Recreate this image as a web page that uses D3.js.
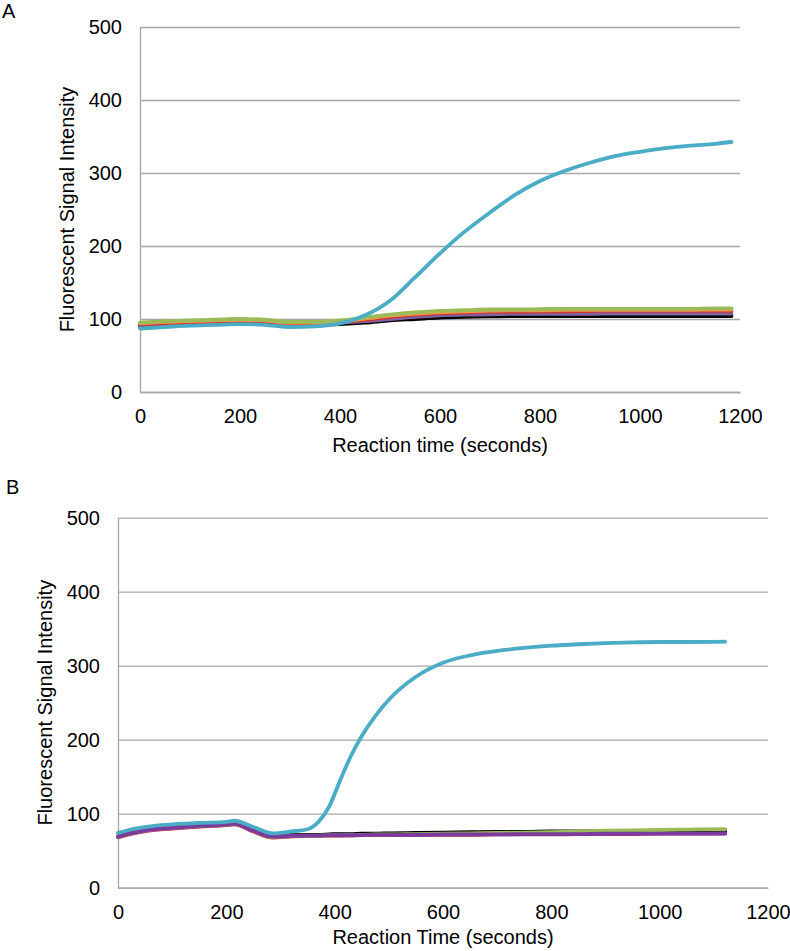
<!DOCTYPE html>
<html>
<head>
<meta charset="utf-8">
<script src="https://cdn.jsdelivr.net/npm/d3@7/dist/d3.min.js"></script>
<style>
body { margin: 0; background: #fff; }
text { font-family: "Liberation Sans", Arial, sans-serif; fill: #000; }
</style>
</head>
<body>
<div id="chart"></div>
<script>
// panel A data (seconds, signal)
const timesA = [0, 50, 100, 150, 200, 250, 300, 350, 400, 450, 500, 550, 600, 650, 700, 750, 800, 850, 900, 950, 1000, 1050, 1100, 1150, 1183];
const blackA  = [91, 92, 93, 93.5, 94, 93.5, 92, 92, 93, 95, 98, 100, 102, 103, 103.5, 104, 104, 104, 104, 104, 104, 104, 104, 104, 104];
const purpleA = [92, 93, 94, 95, 95.5, 95, 93, 93, 95, 97, 100, 103, 105, 106, 106.5, 107, 107, 107, 107, 107.5, 107.5, 107.5, 107.5, 107.5, 107.5];
const redA    = [93, 94, 95, 96, 97, 96, 94, 94, 96, 99, 103, 106, 108, 109, 110, 110, 110.5, 110.5, 111, 111, 111, 111, 111, 111, 111];
const orangeA = [94, 96, 97, 98, 99, 98, 95, 95, 97, 100.5, 104.5, 107.5, 109.5, 110.5, 111.5, 112, 112, 112.5, 112.5, 112.5, 112.5, 112.5, 112.5, 113, 113];
const greenA  = [95, 97, 98, 99, 100, 99, 96, 96, 98, 102, 106, 109, 111, 112, 113, 113, 113.5, 114, 114, 114, 114, 114, 114, 114.5, 114.5];
const cyanA   = [87, 89, 91, 92, 93, 92, 89, 90, 94, 105, 125, 157, 190, 220, 246, 270, 289, 303, 314, 323, 329, 334, 337.5, 340, 342.5];

// panel B data
const timesB = [0, 20, 40, 60, 80, 100, 150, 200, 215, 250, 285, 320, 350, 370, 390, 410, 430, 450, 475, 500, 550, 600, 650, 700, 750, 800, 850, 900, 950, 1000, 1050, 1121];
const orangeB = [68.5, 72.5, 75.5, 78, 79.5, 80.5, 83, 85, 86, 76, 67.5, 69.5, 70, 70, 70.5, 70.5, 71, 71, 71, 71.5, 71.5, 72, 72, 72.5, 72.5, 73, 73, 73.5, 73.5, 74, 74, 74.5];
const redB    = [68, 72, 75, 77.5, 79, 80, 82.5, 84.5, 85.5, 76, 68, 69.5, 70, 70, 70.5, 70.5, 70.5, 71, 71, 71, 71.5, 71.5, 71.5, 72, 72, 72, 72.5, 72.5, 72.5, 73, 73, 73];
const blackB  = [69.5, 73.5, 76.5, 79, 80.5, 81.5, 84, 86, 87, 77.5, 69.5, 71, 71.5, 71.5, 72, 72.5, 72.5, 73, 73, 73.5, 74, 74.5, 75, 75.5, 75.5, 76, 76, 76, 76.5, 76.5, 76.5, 77];
const greenB  = [69, 73, 76, 78.5, 80, 81, 83.5, 85.5, 86.5, 77, 68.5, 70, 70.5, 70.5, 71, 71, 71.5, 71.5, 72, 72, 72.5, 73, 73.5, 74, 74.5, 75, 76, 77, 77.5, 78, 78.5, 79];
const purpleB = [69, 73, 76, 78.5, 80, 81, 83.5, 85.5, 86.5, 77, 69, 70, 70.5, 70.5, 71, 71, 71, 71, 71.5, 71.5, 71.5, 72, 72, 72, 72.5, 72.5, 72.5, 73, 73, 73, 73, 73.5];
const cyanB   = [74, 78, 81, 83, 84.5, 85.5, 87.5, 89, 90.5, 82, 73.5, 76, 79, 89, 110, 145, 178, 205, 232, 254, 285, 304, 314, 320, 324, 327, 329, 330.5, 331.5, 332, 332, 332.5];

const xTicks = [0, 200, 400, 600, 800, 1000, 1200];
const yTicks = [0, 100, 200, 300, 400, 500];

const fontSize = 20;

const svg = d3.select("#chart")
  .append("svg")
  .attr("width", 790)
  .attr("height", 951);

function drawPanel(cfg) {
  const x = d3.scaleLinear().domain([0, 1200]).range([cfg.left, cfg.right]);
  const y = d3.scaleLinear().domain([0, 500]).range([cfg.bottom, cfg.top]);
  const g = svg.append("g");

  // gridlines + y labels
  const yAxis = g.append("g")
    .attr("transform", `translate(${cfg.left},0)`)
    .call(d3.axisLeft(y).tickValues(yTicks).tickFormat(d3.format("d"))
      .tickSize(-(cfg.right - cfg.left)).tickSizeOuter(0).tickPadding(18));
  yAxis.select(".domain").attr("stroke", "#a6a6a6").attr("stroke-width", 1.3);
  yAxis.selectAll(".tick line").attr("stroke", "#a6a6a6").attr("stroke-width", 1.3);
  yAxis.selectAll(".tick text").attr("font-size", fontSize).attr("font-family", "Liberation Sans, Arial, sans-serif").attr("fill", "#000");

  const xAxis = g.append("g")
    .attr("transform", `translate(0,${cfg.bottom})`)
    .call(d3.axisBottom(x).tickValues(xTicks).tickFormat(d3.format("d")).tickSize(0).tickPadding(cfg.xPad));
  xAxis.select(".domain").attr("stroke", "#a6a6a6").attr("stroke-width", 1.3);
  xAxis.selectAll(".tick text").attr("font-size", fontSize).attr("font-family", "Liberation Sans, Arial, sans-serif").attr("fill", "#000");

  const line = d3.line()
    .x((d) => x(d[0]))
    .y((d) => y(d[1]))
    .curve(d3.curveMonotoneX);

  cfg.series.forEach((s) => {
    g.append("path")
      .datum(cfg.times.map((t, i) => [t, s.values[i]]))
      .attr("d", line)
      .attr("fill", "none")
      .attr("stroke", s.color)
      .attr("stroke-width", 3.8)
      .attr("stroke-linecap", "round")
      .attr("stroke-linejoin", "round");
  });

  g.append("text")
    .attr("x", (cfg.left + cfg.right) / 2)
    .attr("y", cfg.xTitleY)
    .attr("text-anchor", "middle")
    .attr("font-size", fontSize)
    .text(cfg.xTitle);

  g.append("text")
    .attr("transform", `translate(${cfg.yTitleX},${(cfg.top + cfg.bottom) / 2}) rotate(-90)`)
    .attr("text-anchor", "middle")
    .attr("font-size", fontSize)
    .text("Fluorescent Signal Intensity");

  g.append("text")
    .attr("x", cfg.labelX)
    .attr("y", cfg.labelY)
    .attr("font-size", fontSize)
    .text(cfg.label);
}

drawPanel({
  label: "A", labelX: 2, labelY: 18,
  left: 140, right: 740, top: 27, bottom: 392, xPad: 17,
  xTitle: "Reaction time (seconds)", xTitleY: 452,
  yTitleX: 74,
  times: timesA,
  series: [
    { color: "#000000", values: blackA },
    { color: "#8064a2", values: purpleA },
    { color: "#d0312d", values: redA },
    { color: "#f79646", values: orangeA },
    { color: "#9bbb59", values: greenA },
    { color: "#4bacc6", values: cyanA }
  ]
});

drawPanel({
  label: "B", labelX: 6, labelY: 494,
  left: 118, right: 768, top: 517.7, bottom: 887.7, xPad: 17,
  xTitle: "Reaction Time (seconds)", xTitleY: 944,
  yTitleX: 52,
  times: timesB,
  series: [
    { color: "#f79646", values: orangeB },
    { color: "#c0306a", values: redB },
    { color: "#000000", values: blackB },
    { color: "#9bbb59", values: greenB },
    { color: "#7a3a9e", values: purpleB },
    { color: "#4bacc6", values: cyanB }
  ]
});
</script>
</body>
</html>
